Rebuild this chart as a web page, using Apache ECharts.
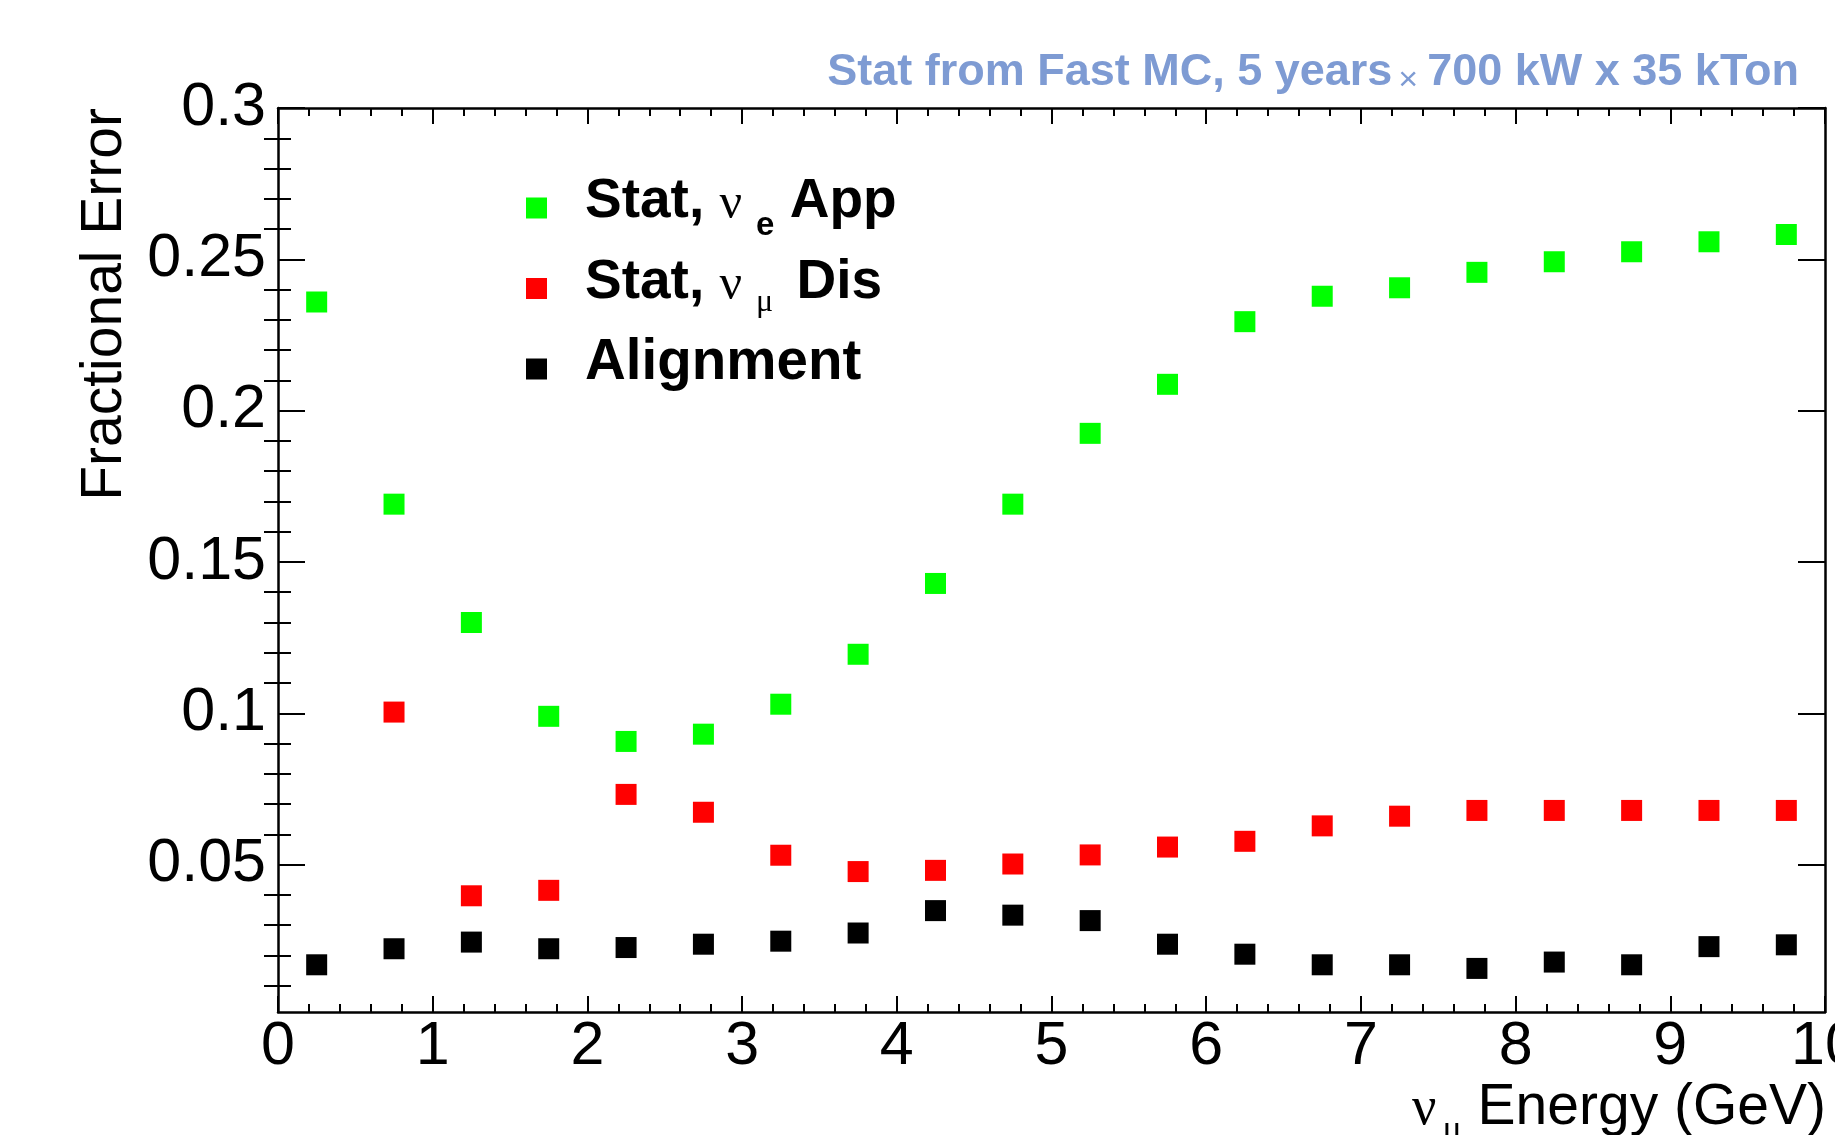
<!DOCTYPE html>
<html>
<head>
<meta charset="utf-8">
<title>Fractional Error vs Energy</title>
<script src="https://cdn.jsdelivr.net/npm/echarts@6/dist/echarts.min.js"></script>
<style>
  html, body { margin: 0; padding: 0; background: #ffffff; }
  #chart { width: 1835px; height: 1135px; }
</style>
</head>
<body>
<div id="chart"></div>
<script>
// Bin centres (GeV)
const energyGeV = [0.25, 0.75, 1.25, 1.75, 2.25, 2.75, 3.25, 3.75, 4.25, 4.75,
                   5.25, 5.75, 6.25, 6.75, 7.25, 7.75, 8.25, 8.75, 9.25, 9.75];

// Fractional errors per bin
const statNueApp = [0.2359, 0.1691, 0.1300, 0.0990, 0.0907, 0.0931, 0.1030, 0.1195, 0.1429, 0.1691,
                    0.1925, 0.2087, 0.2294, 0.2378, 0.2406, 0.2457, 0.2492, 0.2525, 0.2558, 0.2582];
const statNumuDis = [null, 0.1004, 0.0397, 0.0415, 0.0732, 0.0673, 0.0531, 0.0477, 0.0481, 0.0502,
                     0.0532, 0.0558, 0.0577, 0.0628, 0.0660, 0.0679, 0.0679, 0.0679, 0.0679, 0.0679];
const alignment = [0.0169, 0.0222, 0.0244, 0.0222, 0.0226, 0.0237, 0.0247, 0.0274, 0.0348, 0.0333,
                   0.0315, 0.0237, 0.0204, 0.0169, 0.0169, 0.0157, 0.0178, 0.0169, 0.0229, 0.0235];

// Axis ticks
const yMajorTicks = [0.05, 0.1, 0.15, 0.2, 0.25, 0.3];
const yMajorLabels = ['0.05', '0.1', '0.15', '0.2', '0.25', '0.3'];
const yMinorTicks = [0.01, 0.02, 0.03, 0.04, 0.06, 0.07, 0.08, 0.09, 0.11, 0.12, 0.13, 0.14,
                     0.16, 0.17, 0.18, 0.19, 0.21, 0.22, 0.23, 0.24, 0.26, 0.27, 0.28, 0.29];
const yRange = [0.0013, 0.3];
const xRange = [0, 10];

const SANS = '"Liberation Sans", Arial, Helvetica, sans-serif';
const SERIF = '"Liberation Serif", "DejaVu Serif", serif';
const TITLE_BLUE = '#7e9bd3';

const chart = echarts.init(document.getElementById('chart'), null, { renderer: 'canvas' });

function pairs(values) {
  return energyGeV.map((e, i) => [e, values[i]]).filter(p => p[1] != null);
}

const frameLine = { show: true, onZero: false, lineStyle: { color: '#000', width: 2.5 } };

function xAxisDef(position, withLabels) {
  return {
    type: 'value', position: position, min: xRange[0], max: xRange[1], interval: 1,
    axisLine: frameLine,
    axisTick: { show: true, inside: true, length: 16, lineStyle: { color: '#000', width: 2 } },
    minorTick: { show: true, splitNumber: 5, length: 8, lineStyle: { color: '#000', width: 2 } },
    axisLabel: withLabels ? {
      show: true, margin: 5, color: '#000', fontFamily: SANS, fontSize: 61, lineHeight: 61,
      formatter: v => String(Math.round(v))
    } : { show: false },
    splitLine: { show: false }, minorSplitLine: { show: false }
  };
}

function yAxisDef(position, ticks, tickLen, withLabels, lineShown) {
  return {
    type: 'value', position: position, min: yRange[0], max: yRange[1],
    axisLine: lineShown ? frameLine : { show: false },
    axisTick: { show: true, inside: true, length: tickLen, customValues: ticks,
                lineStyle: { color: '#000', width: 2 } },
    minorTick: { show: false },
    axisLabel: withLabels ? {
      show: true, margin: 12, color: '#000', fontFamily: SANS, fontSize: 61, lineHeight: 61,
      customValues: yMajorTicks,
      formatter: v => yMajorLabels[yMajorTicks.findIndex(t => Math.abs(t - v) < 1e-9)] || ''
    } : { show: false },
    splitLine: { show: false }
  };
}

const xBottom = xAxisDef('bottom', true);
xBottom.name = '{nu|ν}{sub|μ}{t| Energy (GeV)}';
xBottom.nameLocation = 'end';
xBottom.nameGap = 1;
xBottom.nameMoveOverlap = false;
xBottom.nameTextStyle = {
  align: 'right', verticalAlign: 'top', padding: [64, 0, 0, 0], color: '#000',
  rich: {
    t: { fontFamily: SANS, fontSize: 57, lineHeight: 64, color: '#000' },
    nu: { fontFamily: SERIF, fontSize: 54, lineHeight: 64, padding: [4, 0, 0, 0], color: '#000' },
    sub: { fontFamily: SERIF, fontSize: 36, lineHeight: 64, padding: [45, 0, 0, 6], color: '#000' }
  }
};

const yLeft = yAxisDef('left', yMajorTicks, 27, true, true);
yLeft.name = 'Fractional Error';
yLeft.nameLocation = 'end';
yLeft.nameRotate = 90;
yLeft.nameGap = 0;
yLeft.nameMoveOverlap = false;
yLeft.nameTextStyle = {
  fontFamily: SANS, fontSize: 57, lineHeight: 56, color: '#000',
  align: 'right', verticalAlign: 'bottom', padding: [0, 0, 145, 0]
};

// Legend text: every fragment shares one line height; subscript offsets come
// from a reduced box height anchored at the bottom of the line.
const legendRich = {
  b: { fontFamily: SANS, fontWeight: 'bold', fontSize: 55, lineHeight: 60, color: '#000' },
  nu: { fontFamily: SERIF, fontSize: 50, lineHeight: 60, height: 54, verticalAlign: 'bottom', color: '#000' },
  se: { fontFamily: SANS, fontWeight: 'bold', fontSize: 33, lineHeight: 60, height: 11.4, verticalAlign: 'bottom',
        padding: [0, 0, 0, 14], color: '#000' },
  smu: { fontFamily: SERIF, fontSize: 32, lineHeight: 60, height: 20.8, verticalAlign: 'bottom',
         padding: [0, 8, 0, 14], color: '#000' },
  al: { fontFamily: SANS, fontWeight: 'bold', fontSize: 56.5, lineHeight: 60, color: '#000' }
};
const legendText = {
  'Stat, νe App': '{b|Stat, }{nu|ν}{se|e}{b| App}',
  'Stat, νμ Dis': '{b|Stat, }{nu|ν}{smu|μ}{b| Dis}',
  'Alignment': '{al|Alignment}'
};

const option = {
  backgroundColor: '#ffffff',
  animation: false,
  title: {
    text: '{t|Stat from Fast MC, 5 years}{x|×}{t|700 kW x 35 kTon}',
    right: 36, top: 48, padding: 0,
    textStyle: {
      rich: {
        t: { fontFamily: SANS, fontWeight: 'bold', fontSize: 45, lineHeight: 50, color: TITLE_BLUE },
        x: { fontFamily: SANS, fontWeight: 'normal', fontSize: 34, lineHeight: 50, height: 34,
             verticalAlign: 'bottom', padding: [0, 9, 0, 6], color: TITLE_BLUE }
      }
    }
  },
  legend: {
    orient: 'vertical', left: 526, top: 172, padding: 0, itemGap: 8.5,
    itemWidth: 21, itemHeight: 21, icon: 'rect', selectedMode: false,
    itemStyle: { opacity: 1 },
    data: ['Stat, νe App', 'Stat, νμ Dis', 'Alignment'],
    formatter: name => legendText[name],
    // transparent box so every entry occupies the same height
    textStyle: { padding: [0, 0, 12, 33], backgroundColor: 'rgba(255,255,255,0)', rich: legendRich }
  },
  grid: { left: 278, right: 10, top: 108, bottom: 123, containLabel: false, outerBoundsMode: 'none' },
  xAxis: [xBottom, xAxisDef('top', false)],
  yAxis: [
    yLeft,
    yAxisDef('left', yMinorTicks, 13, false, false),
    yAxisDef('right', yMajorTicks, 27, false, true),
    yAxisDef('right', yMinorTicks, 14, false, false)
  ],
  series: [
    { name: 'Stat, νe App', type: 'scatter', symbol: 'rect', symbolSize: 21,
      itemStyle: { color: '#00ff00', opacity: 1 }, data: pairs(statNueApp) },
    { name: 'Stat, νμ Dis', type: 'scatter', symbol: 'rect', symbolSize: 21,
      itemStyle: { color: '#ff0000', opacity: 1 }, data: pairs(statNumuDis) },
    { name: 'Alignment', type: 'scatter', symbol: 'rect', symbolSize: 21,
      itemStyle: { color: '#000000', opacity: 1 }, data: pairs(alignment) }
  ]
};

chart.setOption(option);
</script>
</body>
</html>
